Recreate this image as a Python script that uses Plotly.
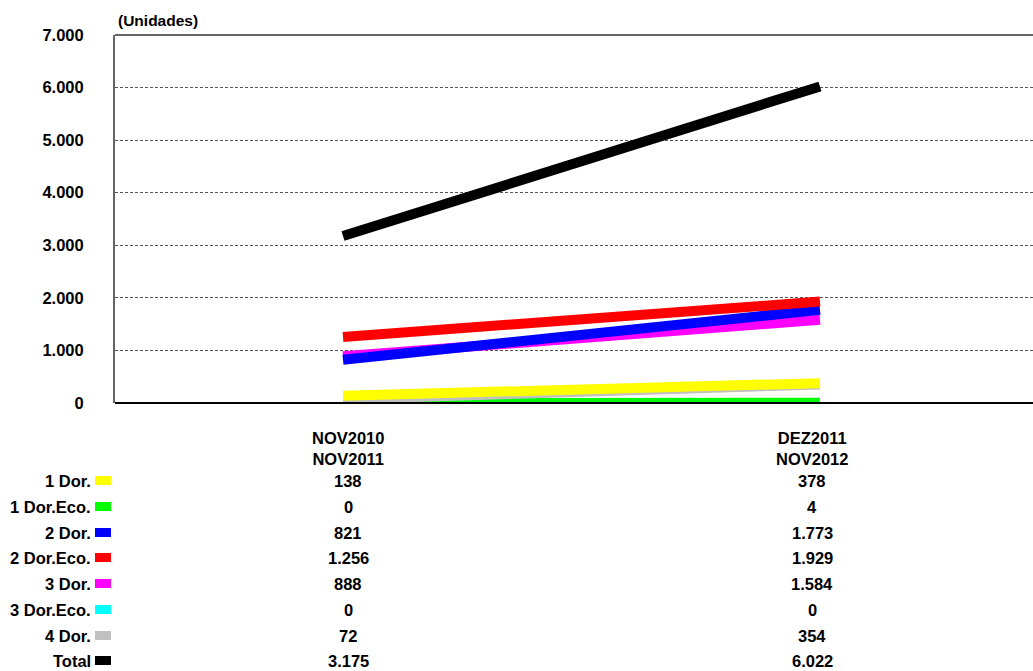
import plotly.graph_objects as go

periods = ["NOV2010<br>NOV2011", "DEZ2011<br>NOV2012"]
series_names = ["1 Dor.", "1 Dor.Eco.", "2 Dor.", "2 Dor.Eco.", "3 Dor.", "3 Dor.Eco.", "4 Dor.", "Total"]
series_colors = ["#ffff00", "#00ff00", "#0000ff", "#ff0000", "#ff00ff", "#00ffff", "#c0c0c0", "#000000"]
values_p1 = [138, 0, 821, 1256, 888, 0, 72, 3175]
values_p2 = [378, 4, 1773, 1929, 1584, 0, 354, 6022]
y_ticks = [0, 1000, 2000, 3000, 4000, 5000, 6000, 7000]

W, H = 1033, 671
L, T, B = 115, 35, 403
PW, PH = W - L, B - T

def xp(px):
    return (px - L) / PW

def yp(py):
    return (B - py) / PH

def fmt(v):
    return f"{v:,}".replace(",", ".")

FONT = "Arial, Liberation Sans, sans-serif"
TS = 16.5

fig = go.Figure()
draw_order = [5, 1, 6, 0, 4, 2, 3, 7]
for i in draw_order:
    fig.add_trace(go.Scatter(
        x=[0, 1], y=[values_p1[i], values_p2[i]], mode="lines",
        line=dict(color=series_colors[i], width=10),
        name=series_names[i], showlegend=False, hoverinfo="skip"))

span = 1 / (xp(820) - xp(343))
r0 = -xp(343) * span
r1 = r0 + span

fig.update_xaxes(range=[r0, r1], showgrid=False, zeroline=False, showticklabels=False,
                 showline=False, fixedrange=True)
fig.update_yaxes(range=[0, 7000], tickvals=y_ticks, ticktext=[fmt(v) for v in y_ticks],
                 showgrid=True, gridcolor="#555555", griddash="3px,2px", gridwidth=1,
                 zeroline=False, showline=True, linecolor="#666666", linewidth=2,
                 ticks="", ticklabelstandoff=26,
                 tickfont=dict(family=FONT, size=16.5, color="#000000", weight="bold"))

shapes = []
shapes.append(dict(type="line", xref="paper", yref="paper", x0=0, x1=1, y0=1, y1=1,
                   line=dict(color="#666666", width=2)))
shapes.append(dict(type="line", xref="paper", yref="paper", x0=0, x1=1, y0=0, y1=0,
                   line=dict(color="#000000", width=2)))

annotations = [dict(text="<b>(Unidades)</b>", xref="paper", yref="paper", x=xp(116), y=yp(21),
                    xanchor="left", yanchor="middle", showarrow=False,
                    font=dict(family=FONT, size=15.5, color="#000000"))]

col_px = [348, 812]
for j, p in enumerate(periods):
    annotations.append(dict(text="<b>" + p + "</b>", xref="paper", yref="paper",
                            x=xp(col_px[j]), y=yp(448), xanchor="center", yanchor="middle",
                            showarrow=False, align="center",
                            font=dict(family=FONT, size=TS, color="#000000")))

row_py = [481, 507, 533, 558, 584, 610, 636, 661]
for i, name in enumerate(series_names):
    py = row_py[i]
    annotations.append(dict(text="<b>" + name + "</b>", xref="paper", yref="paper",
                            x=xp(93), y=yp(py), xanchor="right", yanchor="middle",
                            showarrow=False, font=dict(family=FONT, size=TS, color="#000000")))
    shapes.append(dict(type="rect", xref="paper", yref="paper", x0=xp(95), x1=xp(111),
                       y0=yp(py + 4), y1=yp(py - 5), fillcolor=series_colors[i],
                       line=dict(width=0)))
    for j, vals in enumerate([values_p1, values_p2]):
        annotations.append(dict(text="<b>" + fmt(vals[i]) + "</b>", xref="paper", yref="paper",
                                x=xp(col_px[j]), y=yp(py), xanchor="center", yanchor="middle",
                                showarrow=False, font=dict(family=FONT, size=TS, color="#000000")))

fig.update_layout(width=W, height=H, margin=dict(l=L, r=0, t=T, b=H - B),
                  paper_bgcolor="white", plot_bgcolor="white",
                  font=dict(family=FONT, color="#000000"),
                  shapes=shapes, annotations=annotations, showlegend=False)

fig.write_html("out.html")
